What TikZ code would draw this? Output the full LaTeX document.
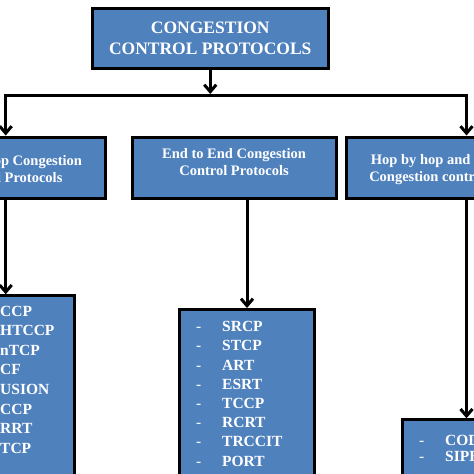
\documentclass[tikz,border=0pt]{standalone}
\usepackage{fontspec}
\setmainfont{Liberation Serif}
\usepackage{xcolor}
\usetikzlibrary{arrows.meta}
\definecolor{boxBlue}{HTML}{4F81BD}
\newcommand{\rootfont}{\fontsize{17.5}{20.7}\selectfont\bfseries}
\newcommand{\catfont}{\fontsize{14.5}{17}\selectfont\bfseries}
\newcommand{\itemfont}{\fontsize{15.5}{19.2}\selectfont\bfseries}

\begin{document}
\begin{tikzpicture}[x=1pt, y=-1pt, >={Straight Barb[length=7pt,width=12pt]},
  box/.style={draw=black, line width=3pt, fill=boxBlue, inner sep=0pt},
  boxtext/.style={text=white, align=center, inner sep=0pt},
  itemtext/.style={text=white, font=\itemfont, inner sep=0pt, anchor=base west},
  link/.style={line width=3pt}]
\fill[white] (0,0) rectangle (474,474);
\useasboundingbox (0,0) rectangle (474,474);
\clip (0,0) rectangle (474,474);
% ---------- root ----------
\node[box, boxtext, font=\rootfont, minimum width=235.5pt, minimum height=60pt] (root) at (210.25,38)
  {CONGESTION\\CONTROL PROTOCOLS};
% ---------- second level ----------
\node[box, minimum width=195pt, minimum height=61pt] (hop) at (7.5,167.5) {};
\node[box, minimum width=203.5pt, minimum height=61pt] (e2e) at (234.25,167.5) {};
\node[box, minimum width=220pt, minimum height=61pt] (hyb) at (456.7,167.5) {};
\node[boxtext, font=\catfont] (hoptext) at (7.7,169.5) {Hop by Hop Congestion\\Control Protocols};
\node[boxtext, font=\catfont] (e2etext) at (234,161.6) {End to End Congestion\\Control Protocols};
\node[boxtext, font=\catfont] (hybtext) at (458,170) {Hop by hop and End to End\\Congestion control protocols};
% ---------- third level ----------
\node[box, minimum width=136.5pt, minimum height=220pt, anchor=north east] (hoplist) at (75.5,294.3) {};
\node[box, minimum width=135pt, minimum height=200pt, anchor=north west] (e2elist) at (178,308) {};
\node[box, minimum width=135pt, minimum height=200pt, anchor=north west] (hyblist) at (401,418.3) {};
% ---------- connectors ----------
\coordinate (ljoin) at (5.7,95.5);
\coordinate (rjoin) at (466.5,95.5);
\coordinate (rootjoin) at (210.25,94);
\draw[link,->] (root) -- (rootjoin);
\draw[link,<->] (ljoin |- hop.north) -- (ljoin) -- (rjoin) -- (rjoin |- hyb.north);
\draw[link,->] (ljoin |- hop.south) -- (ljoin |- hoplist.north);
\draw[link,->] (e2e.south -| e2elist.north) -- (e2elist.north);
\draw[link,->] (rjoin |- hyb.south) -- (rjoin |- hyblist.north);
% ---------- lists ----------
\foreach \name [count=\i] in {CCP,HTCCP,nTCP,CF,USION,CCP,RRT,TCP}
  \node[itemtext] (hopitem\i) at (0,{316+19.6*(\i-1)}) {\name};
\foreach \name [count=\i] in {SRCP,STCP,ART,ESRT,TCCP,RCRT,TRCCIT,PORT}{
  \node[itemtext] (e2edash\i) at (196,{331.7+19.2*(\i-1)}) {\mdseries -};
  \node[itemtext] (e2eitem\i) at (222,{331.7+19.2*(\i-1)}) {\name};}
\foreach \name [count=\i] in {CODA,SIPHON}{
  \node[itemtext] (hybdash\i) at (419,{445+16.7*(\i-1)}) {\mdseries -};
  \node[itemtext] (hybitem\i) at (445,{445+16.7*(\i-1)}) {\name};}
\end{tikzpicture}
\end{document}
